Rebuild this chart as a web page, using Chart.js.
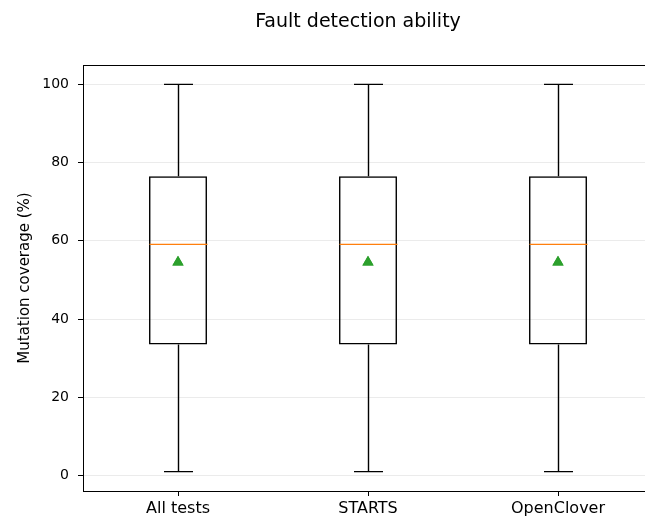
<!DOCTYPE html>
<html>
<head>
<meta charset="utf-8">
<title>Fault detection ability</title>
<script src="https://cdn.jsdelivr.net/npm/chart.js@4.4.0/dist/chart.umd.min.js"></script>
<style>
  html, body { margin: 0; padding: 0; background: #fff; overflow: hidden; }
  #wrap { width: 660px; height: 519px; }
</style>
</head>
<body>
<div id="wrap"><canvas id="boxChart" width="660" height="519"></canvas></div>
<script>
// Box plot data, one entry per tool
const categories = ["All tests", "STARTS", "OpenClover"];
const whiskerLow = [1, 1, 1];
const q1 = [33.5, 33.5, 33.5];
const median = [59.1, 59.1, 59.1];
const q3 = [76.5, 76.5, 76.5];
const whiskerHigh = [100, 100, 100];
const mean = [54.5, 54.5, 54.5];
const yTicks = [0, 20, 40, 60, 80, 100];

const titleText = "Fault detection ability";
const yAxisTitle = "Mutation coverage (%)";
const FONT = "'DejaVu Sans', sans-serif";

// whiskers, caps, medians and the frame around the axes
const boxPlotPlugin = {
  id: "boxPlot",
  afterDatasetsDraw(chart) {
    const ctx = chart.ctx;
    const x = chart.scales.x;
    const y = chart.scales.y;
    const boxes = chart.getDatasetMeta(0).data;
    ctx.save();
    categories.forEach((_, i) => {
      const cx = Math.round(x.getPixelForTick(i)) + 0.5;
      const half = boxes[i].width / 2;
      const capHalf = half / 2;
      const yLow = y.getPixelForValue(whiskerLow[i]);
      const yQ1 = y.getPixelForValue(q1[i]);
      const yQ3 = y.getPixelForValue(q3[i]);
      const yHigh = y.getPixelForValue(whiskerHigh[i]);
      const yMed = y.getPixelForValue(median[i]);

      ctx.strokeStyle = "#000";
      ctx.lineWidth = 1.4;
      ctx.beginPath();
      ctx.moveTo(cx, yQ1);
      ctx.lineTo(cx, yLow);
      ctx.moveTo(cx - capHalf, yLow);
      ctx.lineTo(cx + capHalf, yLow);
      ctx.moveTo(cx, yQ3);
      ctx.lineTo(cx, yHigh);
      ctx.moveTo(cx - capHalf, yHigh);
      ctx.lineTo(cx + capHalf, yHigh);
      ctx.stroke();

      ctx.strokeStyle = "#ff7f0e";
      ctx.beginPath();
      ctx.moveTo(cx - half, yMed);
      ctx.lineTo(cx + half, yMed);
      ctx.stroke();
    });

    // triangles for the means go on top
    chart.getDatasetMeta(1).controller.draw();

    const a = chart.chartArea;
    ctx.strokeStyle = "#000";
    ctx.lineWidth = 1;
    ctx.strokeRect(Math.round(a.left) + 0.5, Math.round(a.top) + 0.5,
      Math.round(a.right - a.left), Math.round(a.bottom - a.top));

    ctx.fillStyle = "#000";
    ctx.font = "19px " + FONT;
    ctx.textAlign = "center";
    ctx.textBaseline = "alphabetic";
    ctx.fillText(titleText, 358, 27);
    ctx.restore();
  }
};

new Chart(document.getElementById("boxChart").getContext("2d"), {
  type: "bar",
  data: {
    labels: categories,
    datasets: [
      {
        label: "IQR",
        data: categories.map((_, i) => [q1[i], q3[i]]),
        backgroundColor: "rgba(255,255,255,0)",
        borderColor: "#000",
        borderWidth: 1.4,
        borderSkipped: false,
        barPercentage: 0.305,
        categoryPercentage: 1.0,
        order: 2
      },
      {
        type: "line",
        label: "Mean",
        data: mean,
        showLine: false,
        pointStyle: "triangle",
        pointRadius: 6.5,
        pointBackgroundColor: "#2ca02c",
        pointBorderWidth: 0,
        order: 1
      }
    ]
  },
  options: {
    responsive: false,
    animation: false,
    devicePixelRatio: 1,
    layout: { padding: { top: 65, right: 7, left: 0, bottom: 0 } },
    plugins: {
      legend: { display: false },
      tooltip: { enabled: false },
      title: { display: false }
    },
    scales: {
      x: {
        offset: true,
        grid: {
          offset: false,
          drawOnChartArea: false,
          drawTicks: true,
          tickLength: 5,
          tickColor: "#000"
        },
        border: { display: false },
        ticks: {
          color: "#000",
          padding: 3,
          font: { family: FONT, size: 16 }
        },
        afterFit(scale) { scale.height = 28; }
      },
      y: {
        min: -3.95,
        max: 104.95,
        afterBuildTicks(scale) {
          scale.ticks = yTicks.map(v => ({ value: v }));
        },
        grid: {
          color: "#ebebeb",
          lineWidth: 1,
          drawTicks: true,
          tickLength: 5,
          tickColor: "#000"
        },
        border: { display: false },
        ticks: {
          color: "#000",
          padding: 9,
          font: { family: FONT, size: 14 }
        },
        title: {
          display: true,
          text: yAxisTitle,
          color: "#000",
          font: { family: FONT, size: 15 },
          padding: { top: 16, bottom: 0 }
        },
        afterFit(scale) { scale.width = 83; }
      }
    }
  },
  plugins: [boxPlotPlugin]
});
</script>
</body>
</html>
